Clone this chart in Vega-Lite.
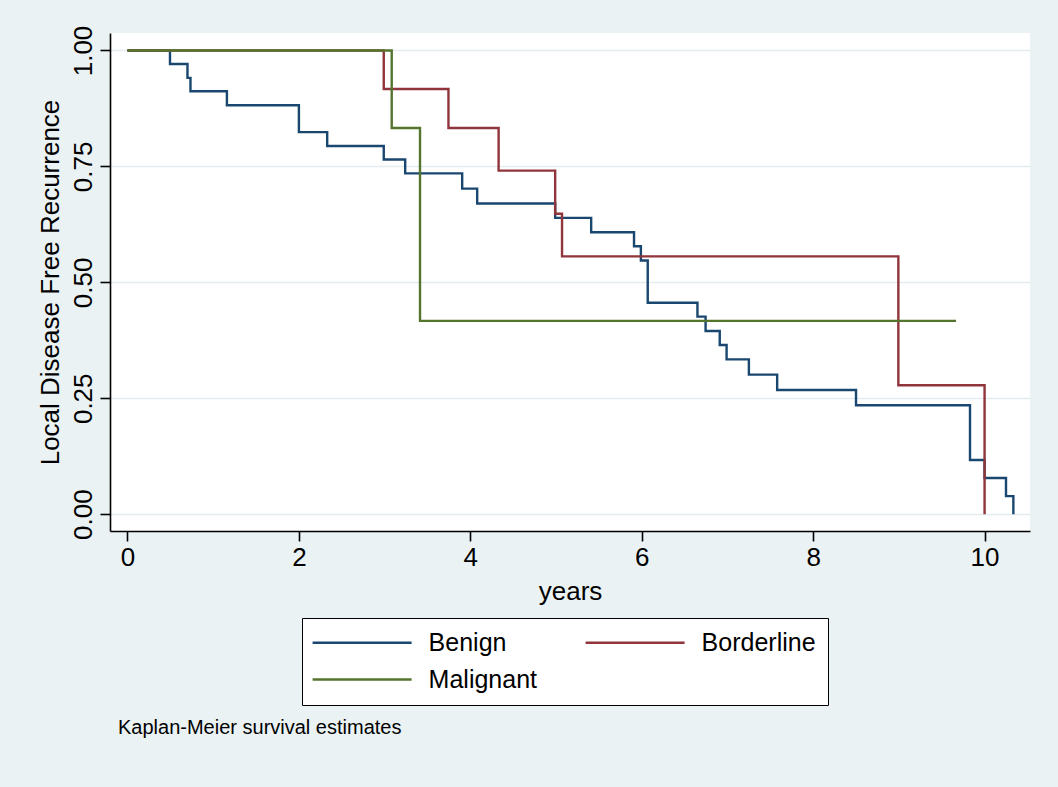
{
  "$schema": "https://vega.github.io/schema/vega-lite/v6.json",
  "width": 920,
  "height": 498,
  "autosize": {"type": "none"},
  "padding": {"left": 110, "top": 33, "right": 28, "bottom": 256},
  "background": "#EAF2F3",
  "title": {
    "text": "Kaplan-Meier survival estimates",
    "orient": "bottom",
    "anchor": "start",
    "frame": "group",
    "font": "Liberation Sans",
    "fontSize": 20,
    "fontWeight": "normal",
    "color": "#000000",
    "offset": 12,
    "dx": 8
  },
  "config": {
    "view": {"fill": "white", "stroke": null},
    "axis": {
      "labelFont": "Liberation Sans",
      "titleFont": "Liberation Sans",
      "labelColor": "#000000",
      "titleColor": "#000000",
      "titleFontWeight": "normal",
      "domainColor": "#000000",
      "domainWidth": 1.6,
      "tickColor": "#000000",
      "tickWidth": 1.6,
      "tickSize": 10
    }
  },
  "data": {
    "values": [
      {"group": "Benign", "years": 0, "survival": 1.0},
      {"group": "Benign", "years": 0.496, "survival": 0.971},
      {"group": "Benign", "years": 0.70, "survival": 0.941},
      {"group": "Benign", "years": 0.735, "survival": 0.912},
      {"group": "Benign", "years": 1.16, "survival": 0.882},
      {"group": "Benign", "years": 2.0, "survival": 0.824},
      {"group": "Benign", "years": 2.33, "survival": 0.794},
      {"group": "Benign", "years": 2.99, "survival": 0.765},
      {"group": "Benign", "years": 3.24, "survival": 0.735},
      {"group": "Benign", "years": 3.905, "survival": 0.702},
      {"group": "Benign", "years": 4.08, "survival": 0.670},
      {"group": "Benign", "years": 4.99, "survival": 0.639},
      {"group": "Benign", "years": 5.41, "survival": 0.608},
      {"group": "Benign", "years": 5.91, "survival": 0.578},
      {"group": "Benign", "years": 5.99, "survival": 0.547},
      {"group": "Benign", "years": 6.07, "survival": 0.456},
      {"group": "Benign", "years": 6.65, "survival": 0.426},
      {"group": "Benign", "years": 6.745, "survival": 0.395},
      {"group": "Benign", "years": 6.91, "survival": 0.365},
      {"group": "Benign", "years": 6.99, "survival": 0.334},
      {"group": "Benign", "years": 7.25, "survival": 0.301},
      {"group": "Benign", "years": 7.58, "survival": 0.268},
      {"group": "Benign", "years": 8.50, "survival": 0.235},
      {"group": "Benign", "years": 9.83, "survival": 0.117},
      {"group": "Benign", "years": 10.0, "survival": 0.078},
      {"group": "Benign", "years": 10.25, "survival": 0.039},
      {"group": "Benign", "years": 10.336, "survival": 0.0},
      {"group": "Borderline", "years": 0, "survival": 1.0},
      {"group": "Borderline", "years": 2.99, "survival": 0.917},
      {"group": "Borderline", "years": 3.745, "survival": 0.833},
      {"group": "Borderline", "years": 4.33, "survival": 0.741},
      {"group": "Borderline", "years": 4.99, "survival": 0.648},
      {"group": "Borderline", "years": 5.07, "survival": 0.556},
      {"group": "Borderline", "years": 8.994, "survival": 0.278},
      {"group": "Borderline", "years": 10.0, "survival": 0.0},
      {"group": "Malignant", "years": 0, "survival": 1.0},
      {"group": "Malignant", "years": 3.083, "survival": 0.833},
      {"group": "Malignant", "years": 3.413, "survival": 0.417},
      {"group": "Malignant", "years": 9.667, "survival": 0.417}
    ]
  },
  "mark": {"type": "line", "interpolate": "step-after", "strokeWidth": 2.4},
  "encoding": {
    "x": {
      "field": "years",
      "type": "quantitative",
      "title": "years",
      "scale": {"domain": [-0.204, 10.53], "nice": false, "zero": false},
      "axis": {
        "values": [0, 2, 4, 6, 8, 10],
        "grid": false,
        "labelFontSize": 26,
        "labelPadding": 3,
        "titleFontSize": 26,
        "titlePadding": 8
      }
    },
    "y": {
      "field": "survival",
      "type": "quantitative",
      "title": "Local Disease Free Recurrence",
      "scale": {"domain": [-0.0362, 1.0377], "nice": false, "zero": false},
      "axis": {
        "values": [0, 0.25, 0.5, 0.75, 1],
        "format": ".2f",
        "labelAngle": -90,
        "labelAlign": "center",
        "labelBaseline": "bottom",
        "labelFontSize": 26,
        "labelPadding": 4,
        "titleFontSize": 26,
        "titlePadding": 7,
        "grid": true,
        "gridColor": "#E3ECEE",
        "gridWidth": 1.6
      }
    },
    "color": {
      "field": "group",
      "type": "nominal",
      "scale": {
        "domain": ["Benign", "Borderline", "Malignant"],
        "range": ["#1A476F", "#90353B", "#55752F"]
      },
      "legend": {
        "title": null,
        "orient": "none",
        "legendX": 192,
        "legendY": 585,
        "direction": "horizontal",
        "columns": 2,
        "gridAlign": "all",
        "symbolType": "M-5,0H5",
        "symbolSize": 392,
        "symbolOffset": 35.6,
        "symbolStrokeWidth": 2.4,
        "labelFont": "Liberation Sans",
        "labelFontSize": 25,
        "labelColor": "#000000",
        "labelOffset": 54,
        "labelLimit": 300,
        "columnPadding": 37,
        "rowPadding": 11,
        "padding": 12,
        "strokeColor": "#000000",
        "fillColor": "#FFFFFF"
      }
    }
  }
}
